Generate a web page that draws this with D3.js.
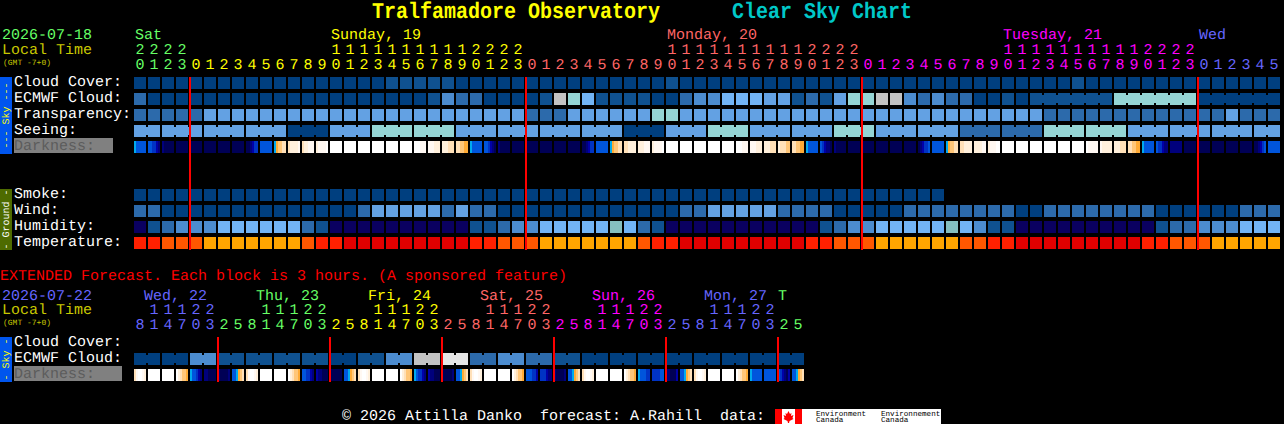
<!DOCTYPE html>
<html>
<head>
<meta charset="utf-8">
<script src="https://cdn.jsdelivr.net/npm/d3@7"></script>
<style>
  html, body { margin: 0; padding: 0; background: #000; overflow: hidden; }
  svg { display: block; }
  text { font-family: "Liberation Mono", monospace; font-size: 15px; white-space: pre; text-rendering: geometricPrecision; }
  text.title { font-weight: bold; }
</style>
</head>
<body>
<script>
// Hours shown above the 1 hour blocks.
const hours = [20,21,22,23,
  0,1,2,3,4,5,6,7,8,9,10,11,12,13,14,15,16,17,18,19,20,21,22,23,
  0,1,2,3,4,5,6,7,8,9,10,11,12,13,14,15,16,17,18,19,20,21,22,23,
  0,1,2,3,4,5,6,7,8,9,10,11,12,13,14,15,16,17,18,19,20,21,22,23,
  0,1,2,3,4,5];
const dayNames = ["Sat", "Sunday, 19", "Monday, 20", "Tuesday, 21", "Wed"];
const dayLabelCells = [0, 14, 38, 62, 76];
const dayFirstCells = [0, 4, 28, 52, 76];
const midnights = [4, 28, 52, 76];

// Block levels. See levelColors for what the numbers mean.
const cloudCover = [0,0,0,0,0,0,0,0,0,0,0,0,0,0,0,0,0,0,1,1,1,1,1,0,0,0,0,0,0,0,0,0,0,0,0,0,0,0,1,0,0,
  0,0,0,0,0,0,0,0,0,0,0,0,0,0,0,0,0,0,0,0,0,0,0,0,0,0,1,0,0,0,0,0,0,0,0,0,0,0,0,0,0];
const ecmwfCloud = [2,0,0,0,0,0,0,0,0,0,0,0,0,0,0,0,0,0,0,0,0,1,3,2,2,0,0,0,0,1,7,6,5,1,1,1,1,0,0,2,3,
  3,5,5,5,4,4,1,2,1,4,6,6,7,7,3,2,3,2,2,0,0,1,0,1,1,1,1,1,1,6,6,6,6,6,6,0,0,0,0,0,0];
const ecmwfSpans = [1,1,1,1,1,1,1,1,1,1,1,1,1,1,1,1,1,1,1,1,1,1,1,1,1,1,1,1,1,1,1,1,
  1,1,1,1,1,1,1,1,1,1,1,1,1,1,1,1,1,1,1,1,1,1,1,1,1,1,1,1,1,1,1,1,6,6,6];
const transparency = [2,2,2,2,2,4,4,4,4,4,4,4,4,4,4,4,4,4,4,4,4,4,4,4,4,4,4,4,2,2,2,4,4,4,4,4,4,6,6,4,4,
  4,4,4,4,4,4,4,4,4,4,4,4,4,4,4,4,4,4,4,4,4,4,4,4,2,2,2,2,2,2,2,2,2,2,2,2,2,4,2,2,2];
const seeingBlocks = [4,4,4,4,0,4,6,6,4,4,4,4,0,4,6,4,4,6,4,4,2,2,6,6,4,4,4,4];
const seeingSpans = [2,3,3,3,3,3,3,3,3,3,3,3,3,3,3,3,3,3,3,3,3,3,3,3,3,3,3,2];
const darkness = [
  "feeeee","eeddcb","baaaaa","aaaaaa","aaaaaa","aaaaaa","aaaaaa","aaaaaa","aabcdd","eeeeee",
  "fghhii","ijjjjk","ijjkkk","jkkkkl","llllll","llllll","llllll","llllll","llllll","llllll",
  "lllkkk","kkkjjj","jjjiii","iihhgg","feeeee","eedcba","baaaaa","aaaaaa","aaaaaa","aaaaaa",
  "aaaaaa","aaaaaa","aabcdd","eeeeee","fghhii","iijjjj","jjjkkk","jkkkkl","llllll","llllll",
  "llllll","llllll","llllll","lllkkk","kkkjjj","jjjiii","jiiihh","iihhgg","feeeee","edcbba",
  "baaaaa","aaaaaa","aaaaaa","aaaaaa","aaaaaa","aaaaaa","abcdde","eeeeee","fghhii","iijjjj",
  "jjjjkk","jkkkll","llllll","llllll","llllll","llllll","llllll","llllll","lkkkkk","kjjjjj",
  "jjjiii","iihhgg","feeeee","eddcbb","bbbbbb","aaaaaa","aaaaaa","aaaaaa","aaaaaa","aaaaaa",
  "aabcde","eeeeee"];
const smoke = [0,0,0,0,0,0,0,0,0,0,0,0,0,0,0,0,0,0,0,0,0,0,0,0,0,0,0,0,0,
  0,0,0,0,0,0,0,0,0,0,0,0,0,0,0,0,0,0,0,0,0,0,0,0,0,0,0,0,0];
const wind = [2,2,0,0,0,0,0,0,0,0,0,0,0,0,0,0,2,4,4,4,4,4,2,4,2,2,0,0,0,0,0,0,0,0,0,0,0,0,0,2,2,
  4,4,4,4,4,2,2,2,2,0,0,0,0,0,2,2,2,2,2,2,2,2,0,0,2,2,2,2,2,2,2,2,0,0,0,0,0,0,2,2,2];
const humidity = [9,1,2,3,3,3,5,5,5,5,5,5,2,1,9,9,9,9,9,9,9,9,9,9,1,1,2,3,3,5,5,5,5,5,10,5,2,1,9,9,9,
  9,9,9,9,9,9,9,9,1,2,3,3,5,5,5,5,5,10,5,3,1,1,9,9,9,9,9,9,9,9,9,9,1,2,2,3,3,3,5,5,5];
const temperature = [1,1,2,2,2,3,3,3,3,3,3,3,2,1,1,0,0,0,0,0,0,0,0,0,1,1,2,2,2,3,3,3,3,3,3,3,2,1,1,0,0,
  0,0,0,0,0,0,0,1,1,2,2,2,3,3,3,3,3,3,2,2,1,1,0,0,0,0,0,0,0,0,0,1,1,2,2,2,3,3,3,3,3];

// Extended forecast, one digit per 3 hour block.
const extHours = [8,11,14,17,20,23,2,5, 8,11,14,17,20,23,2,5, 8,11,14,17,20,23,2,5,
  8,11,14,17,20,23,2,5, 8,11,14,17,20,23,2,5, 8,11,14,17,20,23,2,5];
const extDayNames = ["Wed, 22", "Thu, 23", "Fri, 24", "Sat, 25", "Sun, 26", "Mon, 27", "T"];
const extDayLabelCells = [0, 8, 16, 24, 32, 40, 46];
const extDayFirstCells = [0, 6, 14, 22, 30, 38, 46];
const extMidnights = [6, 14, 22, 30, 38, 46];
const extEcmwf = [0,0,3,1,1,1,1,0,1,3,7,8,2,3,2,1,0,0,0,0,0,0,0,0];
const extDarkness = [
  "ikllkj","llllll","llllll","ljihhg","feedcb","bbaaaa","baaaab","eefghi",
  "ikllkj","llllll","llllll","ljihhg","eeddcb","cbbaaa","aaaaaa","eefghi",
  "ikllkj","llllll","llllll","ljihhg","feddcb","cbbaaa","aaaaab","eefghi",
  "ikllkj","llllll","llllll","ljihhg","eeeddc","dddcbb","baaaab","eefghi",
  "ikllkj","llllll","llllll","ljihhg","feeedd","ddddee","bbaaac","eefghi",
  "ikllkj","llllll","llllll","ljihhg","feeeee","eeeeee","edcbac","eefghi"];

const levelColors = ["#003f7f", "#0f5190", "#2c6aab", "#4c8ccf", "#63a1e3", "#72b4f5",
  "#95d5d5", "#c3c3c3", "#e6e6e6", "#0a0060", "#85bfbf"];
const temperatureColors = ["#e00000", "#ff2000", "#ff5700", "#ffa500"];
const darknessColors = {
  a: "#000055", b: "#00007c", c: "#0000a8", d: "#0033c4", e: "#0055dc", f: "#00aaee",
  g: "#ffab36", h: "#ffc678", i: "#ffe0b8", j: "#fff0dc", k: "#fff8f2", l: "#ffffff",
};
const dayColors = ["#66ff66", "#ffff00", "#ff6666", "#ff00ff", "#6666ff"];
const extDayColors = ["#6666ff", "#66ff66", "#ffff00", "#ff6666", "#ff00ff", "#6666ff", "#66ff66"];

const width = 1284;
const height = 424;

const svg = d3
  .select("body")
  .append("svg")
  .attr("width", width)
  .attr("height", height)
  .attr("shape-rendering", "crispEdges");

svg.append("rect").attr("width", width).attr("height", height).attr("fill", "#000");

// Block x scales. Step is 14 with a 12 wide block.
const x = d3.scaleBand().domain(d3.range(hours.length)).range([134, 134 + 14 * hours.length - 2]).paddingInner(1 / 7);
const xExt = d3.scaleBand().domain(d3.range(extHours.length)).range([134, 134 + 14 * extHours.length - 2]).paddingInner(1 / 7);

// Row y scales.
const skyRows = ["Cloud Cover:", "ECMWF Cloud:", "Transparency:", "Seeing:", "Darkness:"];
const groundRows = ["Smoke:", "Wind:", "Humidity:", "Temperature:"];
const extRows = ["Cloud Cover:", "ECMWF Cloud:", "Darkness:"];
const ySky = d3.scaleBand().domain(skyRows).range([77, 77 + 16 * skyRows.length - 4]).paddingInner(0.25);
const yGround = d3.scaleBand().domain(groundRows).range([189, 189 + 16 * groundRows.length - 4]).paddingInner(0.25);
const yExt = d3.scaleBand().domain(extRows).range([337, 337 + 16 * extRows.length - 4]).paddingInner(0.25);

// Sub cell scale for the darkness gradient.
const slice = d3.scaleBand().domain(d3.range(6)).range([0, 12]);

const level = (d) => levelColors[d];
const heat = (d) => temperatureColors[d];

// Function to draw one row of blocks, joining the blocks of a span with a narrow bridge.
function drawRow(scale, top, bandHeight, values, color, spans) {
  const g = svg.append("g");
  g.selectAll("rect")
    .data(values)
    .join("rect")
    .attr("x", (d, i) => scale(i))
    .attr("y", top)
    .attr("width", scale.bandwidth())
    .attr("height", bandHeight)
    .attr("fill", color);

  if (!spans) return;
  const bridges = [];
  let start = 0;
  spans.forEach((span) => {
    d3.range(start, start + span - 1).forEach((i) => bridges.push(i));
    start += span;
  });
  g.selectAll(".bridge")
    .data(bridges)
    .join("rect")
    .attr("class", "bridge")
    .attr("x", (i) => scale(i) + scale.bandwidth())
    .attr("y", top + 2)
    .attr("width", scale.step() - scale.bandwidth())
    .attr("height", bandHeight - 4)
    .attr("fill", (i) => color(values[i]));
}

// Function to draw a darkness row from the per cell slices.
function drawDarkness(scale, top, bandHeight, values) {
  const cells = svg.append("g").selectAll("g").data(values).join("g")
    .attr("transform", (d, i) => `translate(${scale(i)},${top})`);
  cells.selectAll("rect")
    .data((d) => d.split(""))
    .join("rect")
    .attr("x", (d, i) => slice(i))
    .attr("width", slice.bandwidth())
    .attr("height", bandHeight)
    .attr("fill", (d) => darknessColors[d]);
}

function drawRedLines(scale, cells, y1, y2) {
  svg.append("g").selectAll("rect").data(cells).join("rect")
    .attr("x", (d) => scale(d) - 1)
    .attr("y", y1)
    .attr("width", 2)
    .attr("height", y2 - y1)
    .attr("fill", "#ff0000");
}

function label(text, px, py, fill, size) {
  const t = svg.append("text").attr("x", px).attr("y", py).attr("fill", fill).text(text);
  if (size) t.style("font-size", `${size}px`);
  return t;
}

// Title text, a little taller than the font.
function title(text, px, fill) {
  svg.append("text")
    .attr("class", "title")
    .attr("transform", `translate(${px},18) scale(1,1.13)`)
    .attr("fill", fill)
    .style("font-size", "20px")
    .text(text);
}

// Side bar with text running upwards.
function sideBar(y1, y2, fill, text, textFill) {
  svg.append("rect").attr("x", 0).attr("y", y1).attr("width", 12).attr("height", y2 - y1).attr("fill", fill);
  svg.append("text")
    .attr("transform", `translate(9,${(y1 + y2) / 2}) rotate(-90)`)
    .attr("text-anchor", "middle")
    .attr("fill", textFill)
    .style("font-size", "10px")
    .text(text);
}

// Function to write the hour digits, coloured by the day they belong to.
function hourDigits(scale, values, firstCells, colors, tensY, onesY) {
  const dayOf = (i) => d3.bisectRight(firstCells, i) - 1;
  svg.append("g").attr("text-anchor", "middle").selectAll("text")
    .data(values.map((h, i) => ({ h, i })).filter((d) => d.h >= 10))
    .join("text")
    .attr("x", (d) => scale(d.i) + scale.bandwidth() / 2)
    .attr("y", tensY)
    .attr("fill", (d) => colors[dayOf(d.i)])
    .text((d) => Math.floor(d.h / 10));
  svg.append("g").attr("text-anchor", "middle").selectAll("text")
    .data(values)
    .join("text")
    .attr("x", (d, i) => scale(i) + scale.bandwidth() / 2)
    .attr("y", onesY)
    .attr("fill", (d, i) => colors[dayOf(i)])
    .text((d) => d % 10);
}

// Title.
title("Tralfamadore Observatory", 372, "#ffff00");
title("Clear Sky Chart", 732, "#00c8c8");

// Main header.
label("2026-07-18", 2, 39, "#66ff66");
label("Local Time", 2, 54, "#c8c800");
label("(GMT -7+0)", 3, 65, "#c8c800", 8);
dayNames.forEach((d, i) => label(d, x(dayLabelCells[i]) + 1, 39, dayColors[i]));
hourDigits(x, hours, dayFirstCells, dayColors, 54, 69);

// Side bars.
sideBar(77, 154, "#0055ee", "--- Sky ---", "#ffff00");
sideBar(189, 250, "#4e6b00", "- Ground -", "#ffffff");
sideBar(337, 382, "#0055ee", "- Sky -", "#ffff00");

// Row labels.
skyRows.concat(groundRows).forEach((d) => {
  const y = skyRows.includes(d) ? ySky(d) : yGround(d);
  if (d === "Darkness:") svg.append("rect").attr("x", 14).attr("y", y - 3).attr("width", 99).attr("height", 15).attr("fill", "#808080");
  label(d, 14, y + 9, d === "Darkness:" ? "#5c5c5c" : "#ffffff");
});

// Main rows.
const band = ySky.bandwidth();
drawRow(x, ySky("Cloud Cover:"), band, cloudCover, level);
drawRow(x, ySky("ECMWF Cloud:"), band, ecmwfCloud, level, ecmwfSpans);
drawRow(x, ySky("Transparency:"), band, transparency, level);
const seeing = d3.merge(seeingBlocks.map((d, i) => d3.range(seeingSpans[i]).map(() => d)));
drawRow(x, ySky("Seeing:"), band, seeing, level, seeingSpans);
drawDarkness(x, ySky("Darkness:"), band, darkness);
drawRow(x, yGround("Smoke:"), band, smoke, level);
drawRow(x, yGround("Wind:"), band, wind, level);
drawRow(x, yGround("Humidity:"), band, humidity, level);
drawRow(x, yGround("Temperature:"), band, temperature, heat);
drawRedLines(x, midnights, 77, 250);

// Extended forecast.
label("EXTENDED Forecast. Each block is 3 hours. (A sponsored feature)", 0, 280, "#ff0000");
label("2026-07-22", 2, 300, "#6666ff");
label("Local Time", 2, 314, "#c8c800");
label("(GMT -7+0)", 3, 325, "#c8c800", 8);
extDayNames.forEach((d, i) => label(d, xExt(extDayLabelCells[i]) + (d === "T" ? 0 : 10), 300, extDayColors[i]));
hourDigits(xExt, extHours, extDayFirstCells, extDayColors, 314, 329);

extRows.forEach((d) => {
  if (d === "Darkness:") svg.append("rect").attr("x", 14).attr("y", yExt(d) - 3).attr("width", 108).attr("height", 15).attr("fill", "#808080");
  label(d, 14, yExt(d) + 9, d === "Darkness:" ? "#5c5c5c" : "#ffffff");
});

const extEcmwfCells = d3.merge(extEcmwf.map((d) => [d, d]));
drawRow(xExt, yExt("ECMWF Cloud:"), band, extEcmwfCells, level, extEcmwf.map(() => 2));
drawDarkness(xExt, yExt("Darkness:"), band, extDarkness);
drawRedLines(xExt, extMidnights, 337, 382);

// Footer and logo.
label("© 2026 Attilla Danko  forecast: A.Rahill  data:", 342, 420, "#ffffff");
svg.append("rect").attr("x", 775).attr("y", 409).attr("width", 166).attr("height", 15).attr("fill", "#fff");
svg.append("rect").attr("x", 775).attr("y", 409).attr("width", 7).attr("height", 15).attr("fill", "#ff0000");
svg.append("rect").attr("x", 795).attr("y", 409).attr("width", 7).attr("height", 15).attr("fill", "#ff0000");
svg.append("path")
  .attr("transform", "translate(788.5,417)")
  .attr("d", "M0,-6L1.5,-3L3,-4L2.5,-1L5,-2L4,1L5,2L1,4L.5,6L-.5,6L-1,4L-5,2L-4,1L-5,-2L-2.5,-1L-3,-4L-1.5,-3Z")
  .attr("fill", "#ff0000")
  .attr("shape-rendering", "auto");
[["Environment", 816, 415.5], ["Canada", 816, 422], ["Environnement", 881, 415.5], ["Canada", 881, 422]].forEach(([t, px, py]) =>
  label(t, px, py, "#000000", 7.6)
);
</script>
</body>
</html>
